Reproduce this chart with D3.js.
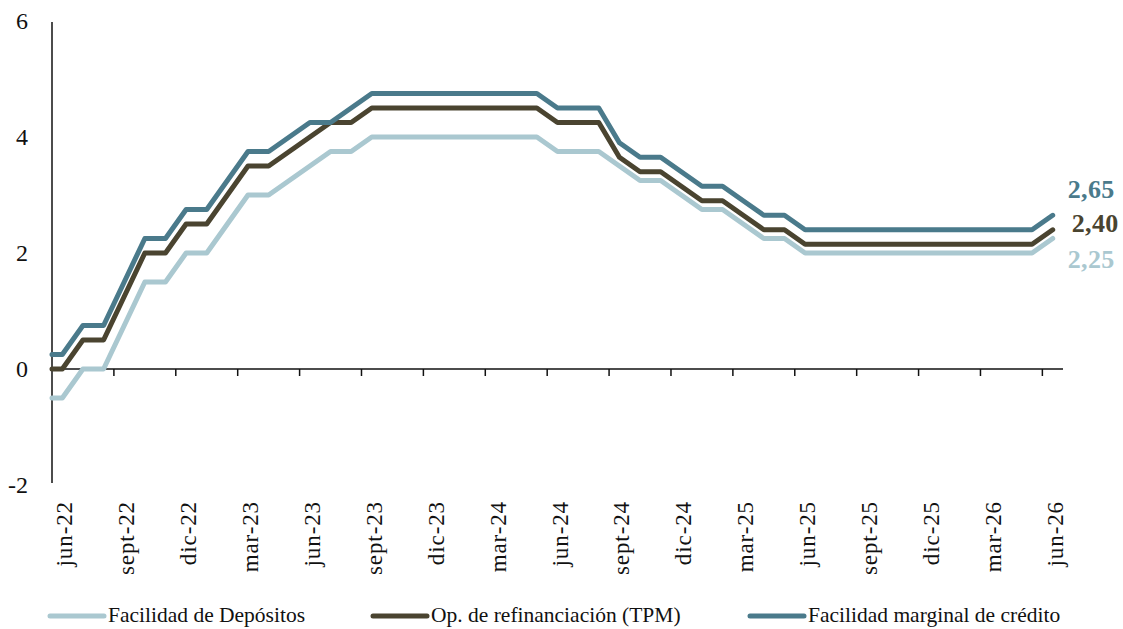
<!DOCTYPE html>
<html>
<head>
<meta charset="utf-8">
<script src="https://cdn.jsdelivr.net/npm/d3@7"></script>
<style>
  body { margin: 0; background: #fff; }
  text { font-family: "Liberation Serif", "DejaVu Serif", serif; fill: #111; }
</style>
</head>
<body>
<svg width="1123" height="629"></svg>
<script>
const months = ['jun-22','jul-22','ago-22','sept-22','oct-22','nov-22','dic-22',
  'ene-23','feb-23','mar-23','abr-23','may-23','jun-23','jul-23','ago-23','sept-23','oct-23','nov-23','dic-23',
  'ene-24','feb-24','mar-24','abr-24','may-24','jun-24','jul-24','ago-24','sept-24','oct-24','nov-24','dic-24',
  'ene-25','feb-25','mar-25','abr-25','may-25','jun-25','jul-25','ago-25','sept-25','oct-25','nov-25','dic-25',
  'ene-26','feb-26','mar-26','abr-26','may-26','jun-26']

const deposito = [-0.5,0,0,0.75,1.5,1.5,2,2,2.5,3,3,3.25,3.5,3.75,3.75,4,
  4,4,4,4,4,4,4,4,3.75,3.75,3.75,3.5,3.25,3.25,3,2.75,2.75,2.5,2.25,2.25,
  2,2,2,2,2,2,2,2,2,2,2,2,2.25]
const refinanciacion = [0,0.5,0.5,1.25,2,2,2.5,2.5,3,3.5,3.5,3.75,4,4.25,4.25,4.5,
  4.5,4.5,4.5,4.5,4.5,4.5,4.5,4.5,4.25,4.25,4.25,3.65,3.4,3.4,3.15,2.9,2.9,2.65,2.4,2.4,
  2.15,2.15,2.15,2.15,2.15,2.15,2.15,2.15,2.15,2.15,2.15,2.15,2.4]
const marginal = [0.25,0.75,0.75,1.5,2.25,2.25,2.75,2.75,3.25,3.75,3.75,4,4.25,4.25,4.5,4.75,
  4.75,4.75,4.75,4.75,4.75,4.75,4.75,4.75,4.5,4.5,4.5,3.9,3.65,3.65,3.4,3.15,3.15,2.9,2.65,2.65,
  2.4,2.4,2.4,2.4,2.4,2.4,2.4,2.4,2.4,2.4,2.4,2.4,2.65]

const yTicks = [-2, 0, 2, 4, 6]
const xLabels = months.filter((m, i) => i % 3 === 0)

const series = [
  {name: 'Facilidad de Depósitos', values: deposito, color: '#aac8d0', label: '2,25', dx: 15, dy: 29},
  {name: 'Op. de refinanciación (TPM)', values: refinanciacion, color: '#4a4430', label: '2,40', dx: 19, dy: 2},
  {name: 'Facilidad marginal de crédito', values: marginal, color: '#4a7a8b', label: '2,65', dx: 15, dy: -17}
]

const svg = d3.select('svg')

const x = d3.scaleBand().domain(months).range([52, 1063])
const y = d3.scaleLinear().domain([-2, 6]).range([485, 21])
const bw = x.bandwidth()

// y axis: line + labels only
svg.append('line')
  .attr('x1', 52).attr('x2', 52)
  .attr('y1', y(6) + 1).attr('y2', y(-2) - 2)
  .attr('stroke', '#111').attr('stroke-width', 1.5)

svg.append('g').selectAll('text').data(yTicks)
  .enter().append('text')
    .attr('x', 28)
    .attr('y', d => y(d))
    .attr('dy', '0.35em')
    .attr('text-anchor', 'end')
    .style('font-size', '24px')
    .text(d => d)

// x axis at zero, ticks at every 3rd month boundary
const tickPos = months.filter((m, i) => i > 0 && i % 3 === 0)
const xAxisG = svg.append('g')
xAxisG.append('line')
  .attr('x1', 52).attr('x2', 1063)
  .attr('y1', y(0)).attr('y2', y(0))
  .attr('stroke', '#111').attr('stroke-width', 1.5)
xAxisG.selectAll('.tick').data(tickPos)
  .enter().append('line')
    .attr('x1', d => x(d)).attr('x2', d => x(d))
    .attr('y1', y(0)).attr('y2', y(0) + 7)
    .attr('stroke', '#111').attr('stroke-width', 1.5)

svg.append('g').selectAll('text').data(xLabels)
  .enter().append('text')
    .attr('transform', d => `translate(${x(d) + bw / 2 + 2},501) rotate(-90)`)
    .attr('dy', '0.35em')
    .attr('text-anchor', 'end')
    .style('font-size', '23px')
    .style('letter-spacing', '0.9px')
    .text(d => d)

// lines
const line = d3.line().x(d => d[0]).y(d => d[1])
series.forEach(s => {
  const pts = [[x(months[0]), y(s.values[0])]]
  s.values.forEach((v, i) => pts.push([x(months[i]) + bw / 2, y(v)]))
  svg.append('path')
    .attr('d', line(pts))
    .attr('fill', 'none')
    .attr('stroke', s.color)
    .attr('stroke-width', 5)
    .attr('stroke-linejoin', 'round')
    .attr('stroke-linecap', 'round')
})

// end labels
const last = months.length - 1
svg.append('g').selectAll('text').data(series)
  .enter().append('text')
    .attr('x', d => x(months[last]) + bw / 2 + d.dx)
    .attr('y', d => y(d.values[last]) + d.dy)
    .style('font-size', '26px')
    .style('font-weight', 'bold')
    .style('letter-spacing', '0.4px')
    .style('fill', d => d.color)
    .text(d => d.label)

// legend
const legendX = [48, 371, 748]
const lg = svg.append('g').selectAll('g').data(series)
  .enter().append('g')
    .attr('transform', (d, i) => `translate(${legendX[i]},615)`)
lg.append('line')
  .attr('x1', 2).attr('x2', 56)
  .attr('y1', 1).attr('y2', 1)
  .attr('stroke', d => d.color)
  .attr('stroke-width', 5)
  .attr('stroke-linecap', 'round')
lg.append('text')
  .attr('x', 60)
  .attr('dy', '0.33em')
  .style('font-size', '21.5px')
  .text(d => d.name)
</script>
</body>
</html>
